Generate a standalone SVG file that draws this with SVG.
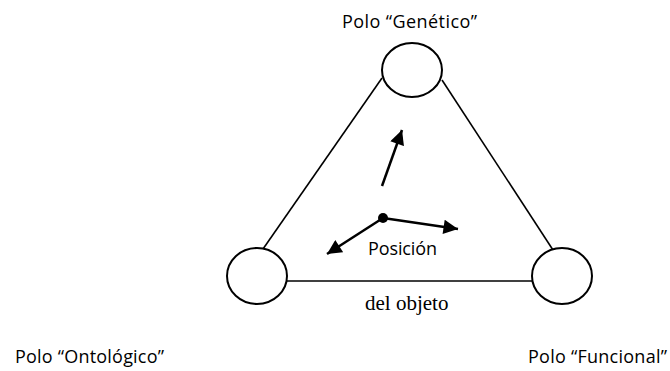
<svg xmlns="http://www.w3.org/2000/svg" width="670" height="371" viewBox="0 0 670 371">
<defs>
<style>
.pole{fill:#fff;stroke:#000;stroke-width:2}
.edge{stroke:#000;stroke-width:1.6;fill:none}
.vec{stroke:#000;stroke-width:2.5;fill:none}
.lbl{font-family:"Open Sans","Liberation Sans",Arial,sans-serif;font-size:18px;fill:#000}
.ser{font-family:"Liberation Serif","Times New Roman",serif;font-size:21px;fill:#000}
</style>
<marker id="ah" viewBox="0 0 10 10" refX="10" refY="5" markerWidth="6.2" markerHeight="5.8" orient="auto" markerUnits="strokeWidth">
<path d="M0,0 L10,5 L0,10 z" fill="#000"/>
</marker>
</defs>
<rect width="670" height="371" fill="#fff"/>
<g id="connectors">
<line class="edge" x1="382" y1="78" x2="263" y2="249"/>
<line class="edge" x1="442" y1="80" x2="553" y2="250"/>
<line class="edge" x1="287" y1="281" x2="532" y2="281"/>
<line class="vec" x1="382" y1="186" x2="402" y2="130" marker-end="url(#ah)"/>
<line class="vec" x1="383" y1="218" x2="458" y2="229" marker-end="url(#ah)"/>
<line class="vec" x1="383" y1="218" x2="327" y2="254" marker-end="url(#ah)"/>
<circle cx="383" cy="218" r="5" fill="#000"/>
</g>
<g id="genetico">
<ellipse class="pole" cx="412" cy="70" rx="30" ry="27"/>
<text class="lbl" x="342" y="28" textLength="135">Polo “Genético”</text>
</g>
<g id="ontologico">
<ellipse class="pole" cx="257" cy="276" rx="30" ry="28"/>
<text class="lbl" x="15" y="363" textLength="149">Polo “Ontológico”</text>
</g>
<g id="funcional">
<ellipse class="pole" cx="562" cy="276" rx="30" ry="28"/>
<text class="lbl" x="528" y="363" textLength="139">Polo “Funcional”</text>
</g>
<g id="posicion">
<text class="lbl" x="368" y="255" textLength="69">Posición</text>
<text class="ser" x="365" y="310">del objeto</text>
</g>
</svg>
